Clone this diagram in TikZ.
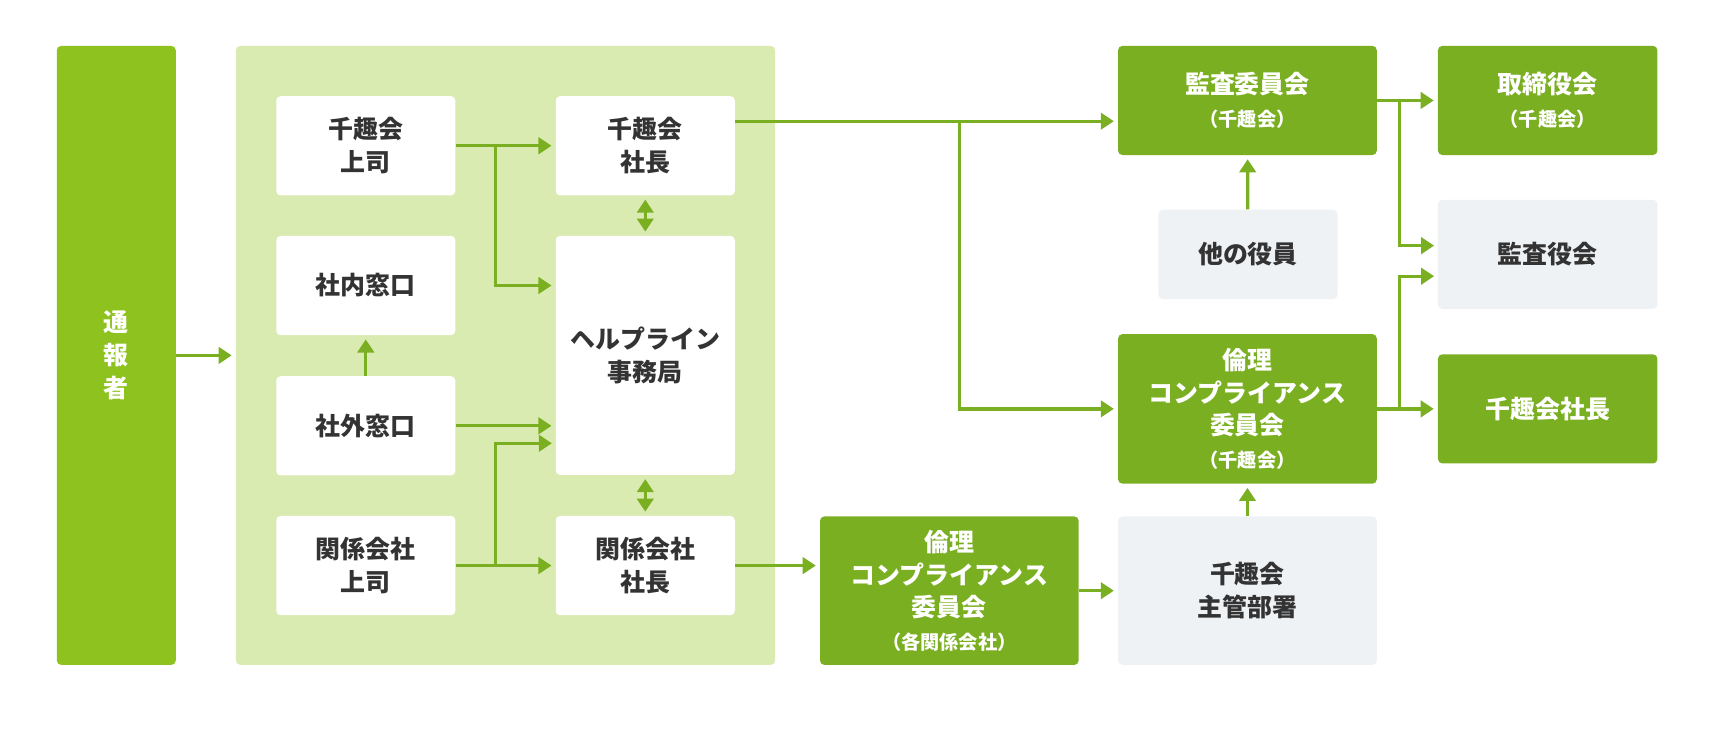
\documentclass[tikz,border=0pt]{standalone}
\usepackage{fontspec}
\setmainfont{Noto Sans CJK JP}
\usetikzlibrary{arrows.meta}
\definecolor{lgreen}{HTML}{8DC21F}
\definecolor{dgreen}{HTML}{7AAF22}
\definecolor{pale}{HTML}{D9EBB0}
\definecolor{lgray}{HTML}{EEF2F5}
\definecolor{txt}{HTML}{333333}
\newcommand{\sm}[1]{{\fontsize{10}{12}\selectfont #1}}
\tikzset{
  box/.style={rounded corners=0.08cm,inner sep=0pt,align=center,font=\fontsize{13}{17}\selectfont\bfseries},
  wbox/.style={box,fill=white,text=txt,minimum width=3.28cm,minimum height=1.82cm},
  gbox/.style={box,fill=lgray,text=txt},
  dbox/.style={box,fill=dgreen,text=white},
  arr/.style={draw=dgreen,line width=0.06cm,-{Triangle[length=0.24cm,width=0.3cm]},shorten >=2pt},
  darr/.style={arr,{Triangle[length=0.24cm,width=0.3cm]}-{Triangle[length=0.24cm,width=0.3cm]},shorten <=2pt}
}
\begin{document}
\begin{tikzpicture}[x=0.02cm,y=-0.02cm]
  \useasboundingbox (0,0) rectangle (1568,678);
  % left part
  \node[box,fill=lgreen,text=white,minimum width=2.18cm,minimum height=11.34cm] (notify) at (106.5,325.5) {通\\報\\者};
  \node[box,fill=pale,minimum width=9.88cm,minimum height=11.34cm] (region) at (463,325.5) {};
  \node[wbox] (boss) at (335,133.5) {千趣会\\上司};
  \node[wbox] (pres) at (591,133.5) {千趣会\\社長};
  \node[wbox] (inner) at (335,261.5) {社内窓口};
  \node[wbox,minimum height=4.38cm] (help) at (591,325.5) {ヘルプライン\\事務局};
  \node[wbox] (outer) at (335,390) {社外窓口};
  \node[wbox] (subboss) at (335,518) {関係会社\\上司};
  \node[wbox] (subpres) at (591,518) {関係会社\\社長};
  % right part
  \node[dbox,minimum width=4.74cm,minimum height=2cm] (audit) at (1142.5,92) {監査委員会\\\sm{（千趣会）}};
  \node[gbox,minimum width=3.28cm,minimum height=1.64cm] (officers) at (1143,233) {他の役員};
  \node[dbox,minimum width=4.74cm,minimum height=2.74cm] (ethics) at (1142.5,374.5) {倫理\\コンプライアンス\\委員会\\\sm{（千趣会）}};
  \node[dbox,minimum width=4.74cm,minimum height=2.72cm] (subethics) at (869.5,541) {倫理\\コンプライアンス\\委員会\\\sm{（各関係会社）}};
  \node[gbox,minimum width=4.74cm,minimum height=2.72cm] (dept) at (1142.5,541) {千趣会\\主管部署};
  \node[dbox,minimum width=4.02cm,minimum height=2cm] (bod) at (1417.5,92) {取締役会\\\sm{（千趣会）}};
  \node[gbox,minimum width=4.02cm,minimum height=2cm] (kansa) at (1417.5,233) {監査役会};
  \node[dbox,minimum width=4.02cm,minimum height=2cm] (ceo) at (1417.5,374.5) {千趣会社長};
  % junctions
  \coordinate (j1) at (454,133.5);
  \coordinate (j2) at (454,518);
  \coordinate (h2) at (509,406);
  \coordinate (p1) at (673,111);
  \coordinate (j3) at (879,111);
  \coordinate (j4) at (1282,92);
  \coordinate (j5) at (1282,374.5);
  \coordinate (k1) at (1317,225);
  \coordinate (k2) at (1317,253);
  % connectors
  \draw[arr] (notify) -- (region);
  \draw[arr] (boss) -- (pres);
  \draw[arr] (j1) |- (help.west |- inner);
  \draw[darr] (pres) -- (help);
  \draw[arr] (outer) -- (inner);
  \draw[arr] (outer) -- (help.west |- outer);
  \draw[arr] (subboss) -- (subpres);
  \draw[arr] (j2) |- (h2);
  \draw[darr] (help) -- (subpres);
  \draw[arr] (subpres.east) -- (subethics.west |- subpres.east);
  \draw[arr] (subethics) -- (dept);
  \draw[arr] (dept) -- (ethics);
  \draw[arr] (p1) -- (audit.west |- p1);
  \draw[arr] (j3) |- (ethics.west);
  \draw[arr] (officers) -- (audit);
  \draw[arr] (audit) -- (bod);
  \draw[arr] (j4) |- (k1);
  \draw[arr] (ethics) -- (ceo);
  \draw[arr] (j5) |- (k2);
\end{tikzpicture}
\end{document}
